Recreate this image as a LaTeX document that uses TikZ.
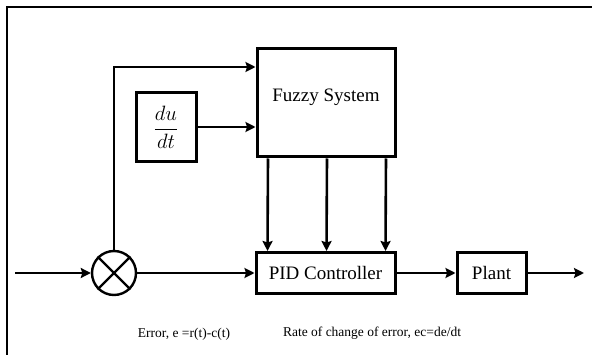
\documentclass[tikz,border=0pt]{standalone}
\usepackage{fontspec}
\setmainfont{Liberation Serif}
\usetikzlibrary{arrows.meta}

\begin{document}
\begin{tikzpicture}[x=1pt,y=-1pt,
  blk/.style={draw,line width=3pt,inner sep=0pt,font=\fontsize{19}{21}\selectfont},
  arr/.style={line width=2.6pt,-{Stealth[length=10pt,width=10pt,inset=1.5pt]}},
  lbl/.style={inner sep=0pt,font=\fontsize{13.5}{15}\selectfont}]
  \useasboundingbox (0,0) rectangle (592,355);
  \draw[line width=2.8pt] (592,7) -- (7,7) -- (7,355);
  \node[blk,minimum width=138pt,minimum height=108pt,text depth=16pt] (fuzzy) at (326,103) {Fuzzy System};
  \node[blk,minimum width=60pt,minimum height=69pt,font=\fontsize{22}{24}\selectfont] (deriv) at (166,127) {$\displaystyle\frac{du}{dt}$};
  \node[draw,circle,line width=2.4pt,minimum size=44pt,inner sep=0pt] (sum) at (114,273) {};
  \draw[line width=2.4pt] (sum.45) -- (sum.225) (sum.135) -- (sum.315);
  \node[blk,minimum width=139pt,minimum height=41pt] (pid) at (325.5,273) {PID Controller};
  \node[blk,minimum width=69pt,minimum height=41pt] (plant) at (491.5,273) {Plant};
  \coordinate (in) at (15,273);
  \coordinate (out) at (584,273);
  \draw[arr] (in) -- (sum.west);
  \draw[arr] (sum.east) -- (pid.west);
  \draw[arr] (sum.north) |- ([yshift=36pt]fuzzy.west);
  \draw[arr] (deriv.east) -- (deriv.east -| fuzzy.west);
  \foreach \dx in {-58,1,60}
    \draw[arr] ([xshift=\dx pt]fuzzy.south) -- ([xshift=\dx pt]pid.north);
  \draw[arr] (pid.east) -- (plant.west);
  \draw[arr] (plant.east) -- (out);
  \node[lbl] (err) at (184,334) {Error, e =r(t)-c(t)};
  \node[lbl] (rate) at (372,333) {Rate of change of error, ec=de/dt};
\end{tikzpicture}
\end{document}
